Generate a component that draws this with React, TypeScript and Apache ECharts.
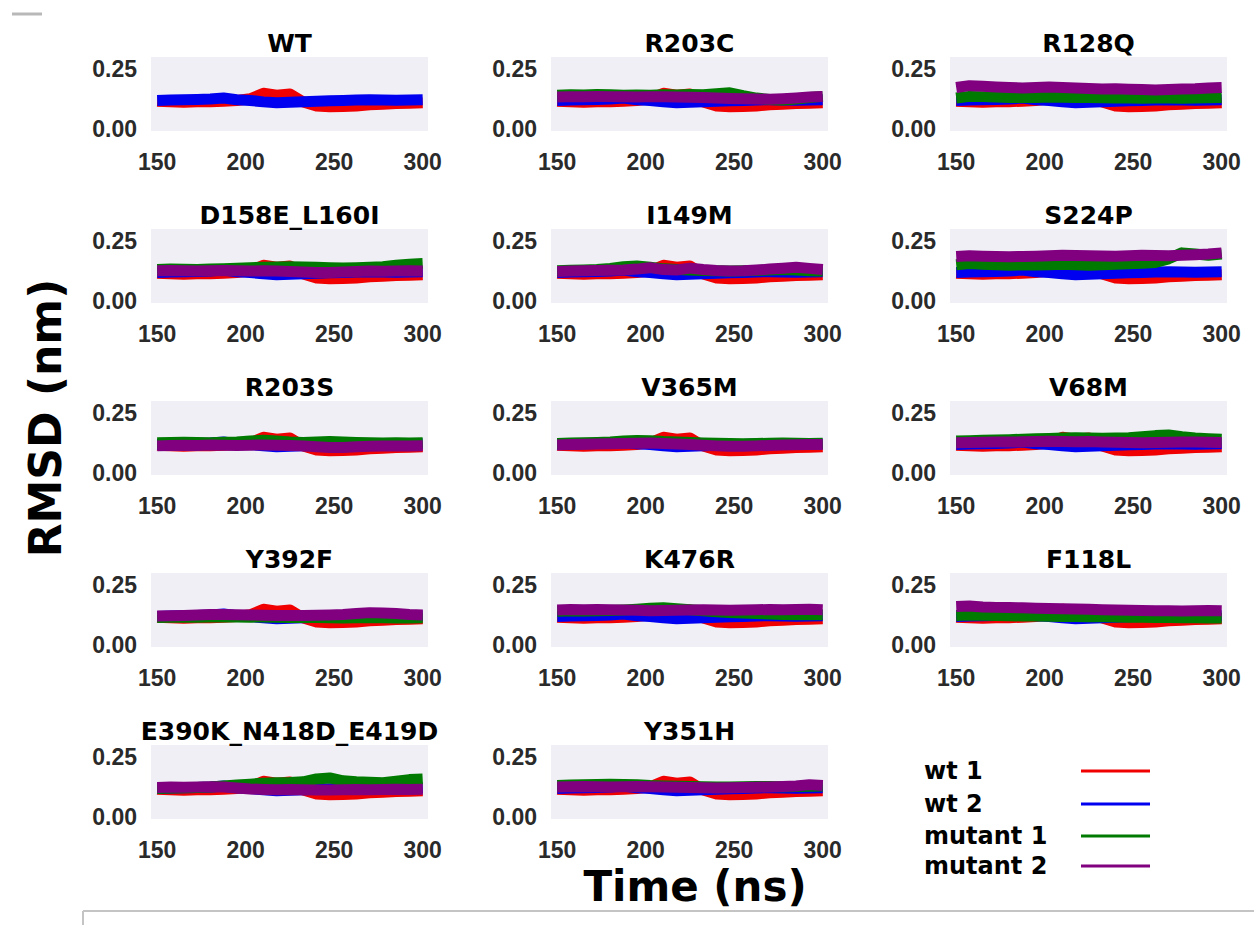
import React, { useEffect, useRef } from "react";
import * as echarts from "echarts";

// Time samples (ns)
const TIME = [150, 157.5, 165, 172.5, 180, 187.5, 195, 202.5, 210, 217.5, 225, 232.5, 240, 247.5, 255, 262.5, 270, 277.5, 285, 292.5, 300];
const X_TICKS = [150, 200, 250, 300];
const Y_TICKS = [0, 0.25];

const SERIES_NAMES = ["wt 1", "wt 2", "mutant 1", "mutant 2"];
const COLORS = ["#f00000", "#0000f0", "#007a00", "#800080"];

// wild type runs (shared by all panels)
const WT1 = [0.115, 0.112, 0.110, 0.112, 0.113, 0.115, 0.118, 0.125, 0.148, 0.140, 0.145, 0.112, 0.095, 0.092, 0.093, 0.095, 0.100, 0.102, 0.105, 0.106, 0.108];
const WT2 = [0.118, 0.120, 0.121, 0.122, 0.124, 0.128, 0.121, 0.118, 0.112, 0.108, 0.110, 0.113, 0.115, 0.117, 0.118, 0.120, 0.121, 0.120, 0.119, 0.120, 0.121];

// mutant runs
const R203C_1 = [0.140, 0.142, 0.141, 0.143, 0.142, 0.140, 0.141, 0.140, 0.142, 0.141, 0.143, 0.142, 0.146, 0.150, 0.138, 0.128, 0.122, 0.120, 0.124, 0.130, 0.135];
const R203C_2 = [0.132, 0.134, 0.133, 0.135, 0.134, 0.133, 0.132, 0.134, 0.133, 0.132, 0.131, 0.130, 0.128, 0.126, 0.125, 0.124, 0.123, 0.125, 0.128, 0.132, 0.135];
const R128Q_1 = [0.128, 0.135, 0.134, 0.132, 0.130, 0.131, 0.130, 0.132, 0.131, 0.130, 0.130, 0.129, 0.128, 0.128, 0.127, 0.128, 0.128, 0.127, 0.128, 0.129, 0.130];
const R128Q_2 = [0.172, 0.180, 0.177, 0.174, 0.172, 0.170, 0.172, 0.174, 0.172, 0.170, 0.168, 0.166, 0.167, 0.165, 0.164, 0.162, 0.164, 0.166, 0.167, 0.170, 0.172];
const D158E_1 = [0.130, 0.132, 0.131, 0.130, 0.132, 0.134, 0.136, 0.138, 0.140, 0.141, 0.142, 0.141, 0.140, 0.138, 0.137, 0.138, 0.140, 0.142, 0.148, 0.152, 0.155];
const D158E_2 = [0.125, 0.126, 0.125, 0.124, 0.125, 0.126, 0.125, 0.124, 0.125, 0.124, 0.122, 0.120, 0.118, 0.118, 0.120, 0.122, 0.124, 0.123, 0.124, 0.125, 0.124];
const I149M_1 = [0.125, 0.127, 0.128, 0.130, 0.135, 0.142, 0.145, 0.140, 0.133, 0.130, 0.128, 0.126, 0.125, 0.124, 0.125, 0.126, 0.128, 0.130, 0.128, 0.125, 0.124];
const I149M_2 = [0.122, 0.124, 0.125, 0.126, 0.127, 0.128, 0.132, 0.138, 0.130, 0.128, 0.136, 0.130, 0.126, 0.124, 0.125, 0.128, 0.132, 0.136, 0.140, 0.135, 0.130];
const S224P_1 = [0.150, 0.155, 0.152, 0.150, 0.148, 0.150, 0.149, 0.150, 0.152, 0.150, 0.148, 0.150, 0.152, 0.154, 0.156, 0.160, 0.175, 0.200, 0.195, 0.190, 0.195];
const S224P_2 = [0.185, 0.188, 0.186, 0.185, 0.184, 0.185, 0.186, 0.188, 0.190, 0.189, 0.188, 0.187, 0.186, 0.188, 0.190, 0.189, 0.188, 0.190, 0.192, 0.195, 0.200];
const R203S_1 = [0.125, 0.126, 0.127, 0.126, 0.125, 0.127, 0.128, 0.132, 0.136, 0.132, 0.128, 0.126, 0.128, 0.130, 0.128, 0.126, 0.125, 0.124, 0.125, 0.124, 0.125];
const R203S_2 = [0.112, 0.114, 0.115, 0.114, 0.116, 0.115, 0.114, 0.115, 0.116, 0.115, 0.114, 0.112, 0.108, 0.105, 0.105, 0.108, 0.110, 0.111, 0.112, 0.112, 0.113];
const V365M_1 = [0.122, 0.124, 0.125, 0.126, 0.128, 0.132, 0.135, 0.134, 0.130, 0.128, 0.126, 0.124, 0.123, 0.122, 0.121, 0.122, 0.123, 0.124, 0.123, 0.122, 0.123];
const V365M_2 = [0.116, 0.118, 0.119, 0.120, 0.121, 0.122, 0.123, 0.124, 0.122, 0.120, 0.118, 0.115, 0.112, 0.110, 0.110, 0.112, 0.114, 0.116, 0.117, 0.118, 0.118];
const V68M_1 = [0.132, 0.134, 0.136, 0.137, 0.138, 0.140, 0.142, 0.143, 0.145, 0.146, 0.145, 0.144, 0.145, 0.146, 0.150, 0.155, 0.158, 0.150, 0.145, 0.142, 0.140];
const V68M_2 = [0.125, 0.126, 0.127, 0.128, 0.128, 0.129, 0.130, 0.131, 0.130, 0.129, 0.130, 0.128, 0.127, 0.126, 0.125, 0.126, 0.127, 0.128, 0.128, 0.127, 0.126];
const Y392F_1 = [0.114, 0.115, 0.116, 0.115, 0.116, 0.117, 0.116, 0.115, 0.116, 0.115, 0.114, 0.115, 0.114, 0.113, 0.112, 0.113, 0.114, 0.113, 0.112, 0.112, 0.113];
const Y392F_2 = [0.120, 0.121, 0.122, 0.124, 0.126, 0.126, 0.125, 0.124, 0.123, 0.122, 0.122, 0.122, 0.123, 0.124, 0.126, 0.130, 0.134, 0.132, 0.130, 0.126, 0.124];
const K476R_1 = [0.140, 0.142, 0.141, 0.142, 0.143, 0.145, 0.148, 0.152, 0.154, 0.150, 0.146, 0.142, 0.138, 0.134, 0.132, 0.130, 0.128, 0.126, 0.125, 0.126, 0.125];
const K476R_2 = [0.145, 0.147, 0.146, 0.147, 0.146, 0.145, 0.144, 0.142, 0.143, 0.144, 0.145, 0.146, 0.145, 0.144, 0.145, 0.146, 0.147, 0.146, 0.147, 0.148, 0.146];
const F118L_1 = [0.122, 0.124, 0.123, 0.122, 0.121, 0.120, 0.120, 0.119, 0.118, 0.118, 0.117, 0.117, 0.116, 0.115, 0.115, 0.114, 0.114, 0.113, 0.113, 0.112, 0.112];
const F118L_2 = [0.160, 0.162, 0.158, 0.156, 0.155, 0.154, 0.152, 0.151, 0.150, 0.149, 0.148, 0.146, 0.145, 0.144, 0.143, 0.142, 0.142, 0.141, 0.142, 0.143, 0.142];
const E390K_1 = [0.118, 0.120, 0.121, 0.122, 0.124, 0.128, 0.132, 0.136, 0.140, 0.142, 0.143, 0.146, 0.158, 0.162, 0.150, 0.146, 0.144, 0.142, 0.148, 0.155, 0.158];
const E390K_2 = [0.122, 0.124, 0.123, 0.124, 0.125, 0.124, 0.120, 0.116, 0.114, 0.113, 0.114, 0.113, 0.112, 0.112, 0.113, 0.114, 0.113, 0.114, 0.115, 0.114, 0.115];
const Y351H_1 = [0.130, 0.132, 0.134, 0.135, 0.136, 0.135, 0.134, 0.130, 0.128, 0.127, 0.126, 0.125, 0.124, 0.124, 0.125, 0.126, 0.126, 0.125, 0.126, 0.127, 0.128];
const Y351H_2 = [0.124, 0.125, 0.126, 0.125, 0.124, 0.125, 0.126, 0.125, 0.124, 0.123, 0.122, 0.121, 0.120, 0.121, 0.122, 0.123, 0.124, 0.126, 0.128, 0.134, 0.130];

const PANEL_NAMES = [
  "WT", "R203C", "R128Q",
  "D158E_L160I", "I149M", "S224P",
  "R203S", "V365M", "V68M",
  "Y392F", "K476R", "F118L",
  "E390K_N418D_E419D", "Y351H",
];
const PANEL_MUT1 = [null, R203C_1, R128Q_1, D158E_1, I149M_1, S224P_1, R203S_1, V365M_1, V68M_1, Y392F_1, K476R_1, F118L_1, E390K_1, Y351H_1];
const PANEL_MUT2 = [null, R203C_2, R128Q_2, D158E_2, I149M_2, S224P_2, R203S_2, V365M_2, V68M_2, Y392F_2, K476R_2, F118L_2, E390K_2, Y351H_2];

const COL_LEFT = [151, 551, 950];
const GRID_W = 277;
const GRID_H = 74;
const ROW_TOP0 = 57;
const ROW_STEP = 172;

export default function App() {
  const ref = useRef<HTMLDivElement>(null);
  useEffect(() => {
    if (!ref.current) return;
    const chart = echarts.init(ref.current, undefined, { renderer: "svg" });
    const grids: any[] = [];
    const xAxes: any[] = [];
    const yAxes: any[] = [];
    const series: any[] = [];
    const graphics: any[] = [];
    const tickFont = { fontFamily: "Liberation Sans", fontWeight: "bold", fontSize: 23, color: "#2a2a2a" };

    PANEL_NAMES.forEach((name, i) => {
      const r = Math.floor(i / 3);
      const c = i % 3;
      const left = COL_LEFT[c];
      const top = ROW_TOP0 + ROW_STEP * r;
      grids.push({ left, top, width: GRID_W, height: GRID_H, show: true, backgroundColor: "#efeff5", borderWidth: 0 });
      xAxes.push({
        gridIndex: i, type: "value", min: 146.5, max: 303,
        axisLine: { show: false }, axisTick: { show: false }, splitLine: { show: false },
        axisLabel: { ...tickFont, margin: 19, customValues: X_TICKS },
      });
      yAxes.push({
        gridIndex: i, type: "value", min: -0.01, max: 0.3,
        axisLine: { show: false }, axisTick: { show: false }, splitLine: { show: false },
        axisLabel: { ...tickFont, margin: 14, customValues: Y_TICKS, formatter: (v: number) => v.toFixed(2) },
      });
      const runs = [WT1, WT2, PANEL_MUT1[i], PANEL_MUT2[i]];
      runs.forEach((arr, k) => {
        if (!arr) return;
        series.push({
          type: "line", name: SERIES_NAMES[k], xAxisIndex: i, yAxisIndex: i,
          symbol: "none", showSymbol: false,
          lineStyle: { width: 11, color: COLORS[k], join: "round", cap: "butt" },
          data: TIME.map((t, j) => [t, arr[j]]),
          z: 2 + k,
        });
      });
      graphics.push({
        type: "text", x: left + GRID_W / 2, y: top - 14,
        style: { text: name, fontFamily: "DejaVu Sans", fontWeight: "bold", fontSize: 25, fill: "#000", textAlign: "center", textVerticalAlign: "middle" },
      });
    });

    // legend (text left, line right)
    const legendY = [771, 804, 836, 866];
    SERIES_NAMES.forEach((n, k) => {
      graphics.push({
        type: "text", x: 924, y: legendY[k],
        style: { text: n, fontFamily: "DejaVu Sans", fontWeight: "bold", fontSize: 24, fill: "#000", textAlign: "left", textVerticalAlign: "middle" },
      });
      graphics.push({
        type: "line", shape: { x1: 1081, y1: legendY[k], x2: 1150, y2: legendY[k] },
        style: { stroke: COLORS[k], lineWidth: 3 },
      });
    });

    graphics.push({
      type: "text", x: 45, y: 418, rotation: Math.PI / 2,
      style: { text: "RMSD (nm)", fontFamily: "DejaVu Sans", fontWeight: "bold", fontSize: 44, fill: "#000", textAlign: "center", textVerticalAlign: "middle" },
    });
    graphics.push({
      type: "text", x: 695, y: 886,
      style: { text: "Time (ns)", fontFamily: "DejaVu Sans", fontWeight: "bold", fontSize: 42, fill: "#000", textAlign: "center", textVerticalAlign: "middle" },
    });
    // screenshot frame artifacts
    graphics.push({ type: "line", shape: { x1: 12, y1: 14, x2: 42, y2: 14 }, style: { stroke: "#b8b8b8", lineWidth: 3 } });
    graphics.push({ type: "line", shape: { x1: 83, y1: 911, x2: 1254, y2: 911 }, style: { stroke: "#c4c4c4", lineWidth: 2 } });
    graphics.push({ type: "line", shape: { x1: 83, y1: 911, x2: 83, y2: 925 }, style: { stroke: "#c4c4c4", lineWidth: 2 } });

    chart.setOption({
      animation: false,
      backgroundColor: "#ffffff",
      grid: grids,
      xAxis: xAxes,
      yAxis: yAxes,
      series,
      graphic: graphics,
    });
    return () => chart.dispose();
  }, []);
  return <div ref={ref} style={{ position: "fixed", left: 0, top: 0, width: 1254, height: 925 }} />;
}
